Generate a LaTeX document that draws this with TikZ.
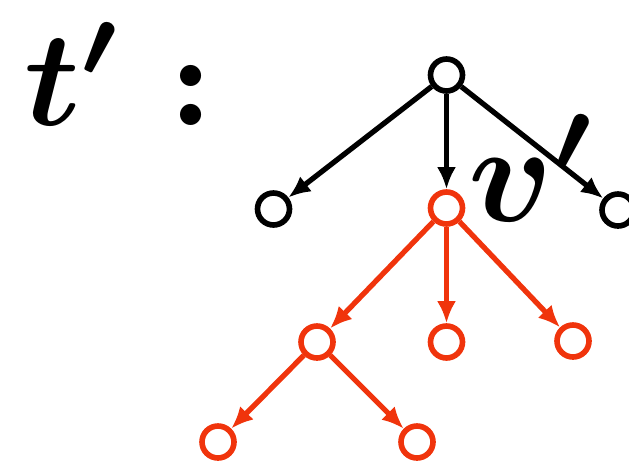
\documentclass[tikz,border=0pt]{standalone}
\usepackage{amsmath}
\usepackage{graphicx}
\usetikzlibrary{arrows.meta}
\definecolor{subred}{RGB}{240,52,12}
\begin{document}
\begin{tikzpicture}[
    vtx/.style={draw, circle, line width=3.2pt, minimum size=0.64cm, inner sep=0pt},
    arrow/.style={->, >={Latex[length=4.4mm,width=3.8mm]}, line width=3pt},
    lbl/.style={inner sep=0pt}
]
    \useasboundingbox (0,0) rectangle (12.58,-9.32);
    % titel
    \node[lbl, anchor=base west] (title) at (0.48,-2.5) {\scalebox{7.7}{$\boldsymbol{t'}\mkern6mu\boldsymbol{{:}}$}};
    % obere ebene
    \node[vtx] (root) at (8.93,-1.5) {};
    \node[vtx] (a) at (5.47,-4.18) {};
    \node[vtx, subred] (v) at (8.93,-4.16) {};
    \node[vtx] (c) at (12.36,-4.2) {};
    \node[lbl, anchor=base west] (vlab) at (9.36,-4.42) {\scalebox{8}{$\boldsymbol{v'}$}};
    \draw[arrow] (root) -- (a);
    \draw[arrow] (root) -- (v);
    \draw[arrow] (root) -- (c);
    % teilbaum unter v
    \node[vtx, subred] (v1) at (6.34,-6.84) {};
    \node[vtx, subred] (v2) at (8.93,-6.84) {};
    \node[vtx, subred] (v3) at (11.46,-6.82) {};
    \node[vtx, subred] (w1) at (4.36,-8.84) {};
    \node[vtx, subred] (w2) at (8.34,-8.84) {};
    \draw[arrow, subred] (v) -- (v1);
    \draw[arrow, subred] (v) -- (v2);
    \draw[arrow, subred] (v) -- (v3);
    \draw[arrow, subred] (v1) -- (w1);
    \draw[arrow, subred] (v1) -- (w2);
\end{tikzpicture}
\end{document}
